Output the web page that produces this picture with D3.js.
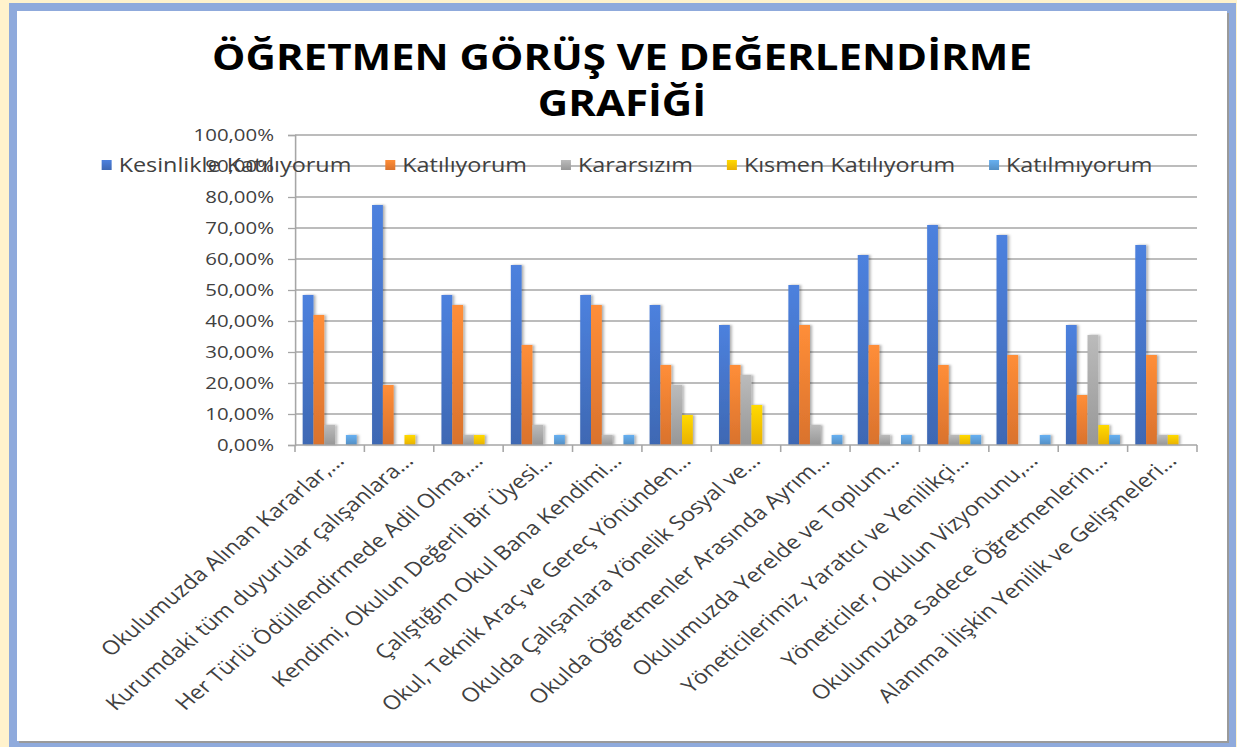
<!DOCTYPE html>
<html>
<head>
<meta charset="utf-8">
<script src="https://d3js.org/d3.v7.min.js"></script>
<style>
  body { margin: 0; background: #fff2cc; }
  svg { display: block; font-family: "Open Sans", sans-serif; }
</style>
</head>
<body>
<script>
const titleLines = ['ÖĞRETMEN GÖRÜŞ VE DEĞERLENDİRME', 'GRAFİĞİ'];

const categories = [
  'Okulumuzda Alınan Kararlar,…',
  'Kurumdaki tüm duyurular çalışanlara…',
  'Her Türlü Ödüllendirmede Adil Olma,…',
  'Kendimi, Okulun Değerli Bir Üyesi…',
  'Çalıştığım Okul Bana Kendimi…',
  'Okul, Teknik Araç ve Gereç Yönünden…',
  'Okulda Çalışanlara Yönelik Sosyal ve…',
  'Okulda Öğretmenler Arasında Ayrım…',
  'Okulumuzda Yerelde ve Toplum…',
  'Yöneticilerimiz, Yaratıcı ve Yenilikçi…',
  'Yöneticiler, Okulun Vizyonunu,…',
  'Okulumuzda Sadece Öğretmenlerin…',
  'Alanıma İlişkin Yenilik ve Gelişmeleri…'
];

const seriesNames = ['Kesinlikle Katılıyorum', 'Katılıyorum', 'Kararsızım', 'Kısmen Katılıyorum', 'Katılmıyorum'];

const kesinlikleKatiliyorum = [48.39, 77.42, 48.39, 58.06, 48.39, 45.16, 38.71, 51.61, 61.29, 70.97, 67.74, 38.71, 64.52];
const katiliyorum           = [41.94, 19.35, 45.16, 32.26, 45.16, 25.81, 25.81, 38.71, 32.26, 25.81, 29.03, 16.13, 29.03];
const kararsizim            = [6.45, 0, 3.23, 6.45, 3.23, 19.35, 22.58, 6.45, 3.23, 3.23, 0, 35.48, 3.23];
const kismenKatiliyorum     = [0, 3.23, 3.23, 0, 0, 9.68, 12.90, 0, 0, 3.23, 0, 6.45, 3.23];
const katilmiyorum          = [3.23, 0, 0, 3.23, 3.23, 0, 0, 3.23, 3.23, 3.23, 3.23, 3.23, 0];

const yTicks = [0, 10, 20, 30, 40, 50, 60, 70, 80, 90, 100];

const seriesValues = [kesinlikleKatiliyorum, katiliyorum, kararsizim, kismenKatiliyorum, katilmiyorum];
const colors = ['#4472c4', '#ed7d31', '#a5a5a5', '#ffc000', '#5b9bd5'];

const WIDTH = 1237;
const HEIGHT = 747;
// the original picture is stretched sideways, so the chart is drawn narrow and scaled
const SX = 1.2;
const LEFT = 295 / SX;
const RIGHT = 1197 / SX;
const TOP = 135;
const BOTTOM = 445;

const tr = d3.formatLocale({decimal: ',', thousands: '.', grouping: [3], currency: ['₺', '']});
const pct = tr.format('.2f');

var x0 = d3.scaleBand()
    .domain(categories)
    .range([LEFT, RIGHT]);

var x1 = d3.scaleBand()
    .domain(seriesNames)
    .range([0, x0.bandwidth()])
    .paddingOuter(0.71);

var y = d3.scaleLinear()
    .domain([0, 100])
    .range([BOTTOM, TOP]);

var svg = d3.select('body').append('svg')
    .attr('width', WIDTH)
    .attr('height', HEIGHT);

// frame
svg.append('rect').attr('width', WIDTH).attr('height', HEIGHT).attr('fill', '#fff2cc');
svg.append('rect').attr('x', 9).attr('y', 3).attr('width', 1227).attr('height', 750).attr('fill', '#8faadc');
svg.append('rect').attr('x', 19).attr('y', 13).attr('width', 1210).attr('height', 730).attr('fill', '#9a9a9a');
svg.append('rect').attr('x', 17).attr('y', 11).attr('width', 1210).attr('height', 730).attr('fill', '#ffffff');

var defs = svg.append('defs');
colors.forEach(function(c, i) {
  var grad = defs.append('linearGradient')
      .attr('id', 'grad' + i)
      .attr('x1', 0).attr('y1', 0).attr('x2', 0).attr('y2', 1);
  grad.append('stop').attr('offset', '0%').attr('stop-color', d3.color(c).brighter(0.35));
  grad.append('stop').attr('offset', '100%').attr('stop-color', d3.color(c).darker(0.25));
});
var shadow = defs.append('filter').attr('id', 'shadow')
    .attr('x', '-50%').attr('y', '-10%').attr('width', '200%').attr('height', '120%');
shadow.append('feDropShadow')
    .attr('dx', 1.5).attr('dy', 0).attr('stdDeviation', 1.2)
    .attr('flood-color', '#000').attr('flood-opacity', 0.35);

var g = svg.append('g').attr('transform', 'scale(' + SX + ',1)');

// title
g.selectAll('.title').data(titleLines)
    .enter()
    .append('text')
    .attr('class', 'title')
    .attr('x', 622 / SX)
    .attr('y', function(d, i) { return 70 + i * 46; })
    .attr('text-anchor', 'middle')
    .attr('font-size', 35)
    .attr('font-weight', 700)
    .attr('fill', '#000')
    .text(function(d) { return d; });

// gridlines
g.selectAll('.grid').data(yTicks.slice(1))
    .enter()
    .append('line')
    .attr('class', 'grid')
    .attr('x1', LEFT).attr('x2', RIGHT)
    .attr('y1', function(d) { return y(d); })
    .attr('y2', function(d) { return y(d); })
    .attr('stroke', '#a6a6a6')
    .attr('stroke-width', 1.3);

// y axis
var yAxis = d3.axisLeft(y)
    .tickValues(yTicks)
    .tickSize(7 / SX)
    .tickPadding(14 / SX)
    .tickFormat(function(d) { return pct(d) + '%'; });

var yg = g.append('g')
    .attr('transform', 'translate(' + LEFT + ',0)')
    .call(yAxis);
yg.select('.domain').attr('stroke', '#a6a6a6').attr('stroke-width', 1.3);
yg.selectAll('.tick line').attr('stroke', '#a6a6a6').attr('stroke-width', 1.3);
yg.selectAll('.tick text')
    .attr('font-family', '"Open Sans", sans-serif')
    .attr('font-size', 17)
    .attr('fill', '#404040');

// bars
var groups = g.selectAll('.cat').data(categories)
    .enter()
    .append('g')
    .attr('class', 'cat')
    .attr('transform', function(d) { return 'translate(' + x0(d) + ',0)'; });

groups.selectAll('rect')
    .data(function(d, ci) {
      return seriesNames.map(function(s, si) { return {s: s, si: si, v: seriesValues[si][ci]}; });
    })
    .enter()
    .filter(function(d) { return d.v > 0; })
    .append('rect')
    .attr('x', function(d) { return x1(d.s); })
    .attr('width', x1.bandwidth())
    .attr('y', function(d) { return y(d.v); })
    .attr('height', function(d) { return y(0) - y(d.v); })
    .attr('fill', function(d) { return 'url(#grad' + d.si + ')'; })
    .attr('filter', 'url(#shadow)');

// x axis
var xLine = g.append('g');
xLine.append('line')
    .attr('x1', LEFT).attr('x2', RIGHT)
    .attr('y1', BOTTOM).attr('y2', BOTTOM)
    .attr('stroke', '#a6a6a6').attr('stroke-width', 1.3);
xLine.selectAll('.xtick').data(d3.range(categories.length + 1))
    .enter()
    .append('line')
    .attr('class', 'xtick')
    .attr('x1', function(i) { return LEFT + i * x0.step(); })
    .attr('x2', function(i) { return LEFT + i * x0.step(); })
    .attr('y1', BOTTOM).attr('y2', BOTTOM + 7)
    .attr('stroke', '#a6a6a6').attr('stroke-width', 1.3);

g.selectAll('.xlabel').data(categories)
    .enter()
    .append('text')
    .attr('class', 'xlabel')
    .attr('transform', function(d) {
      return 'translate(' + (x0(d) + x0.bandwidth() / 2 + 13) + ',' + 462 + ') rotate(-45)';
    })
    .attr('text-anchor', 'end')
    .attr('font-size', 19.5)
    .attr('fill', '#404040')
    .text(function(d) { return d; });

// legend
var legend = g.append('g');
var items = legend.selectAll('.item').data(seriesNames)
    .enter()
    .append('g')
    .attr('class', 'item');
items.append('rect')
    .attr('width', 10 / SX)
    .attr('height', 10)
    .attr('y', -5)
    .attr('fill', function(d, i) { return 'url(#grad' + i + ')'; });
items.append('text')
    .attr('x', 17 / SX)
    .attr('y', 7)
    .attr('font-size', 19.5)
    .attr('fill', '#404040')
    .text(function(d) { return d; });

var widths = [];
items.select('text').each(function() { widths.push(this.getComputedTextLength()); });
var gap = 34 / SX;
var total = d3.sum(widths) + widths.length * 17 / SX + gap * (widths.length - 1);
var lx = 627 / SX - total / 2;
items.attr('transform', function(d, i) {
  var pos = lx;
  lx += 17 / SX + widths[i] + gap;
  return 'translate(' + pos + ',165)';
});
</script>
</body>
</html>
